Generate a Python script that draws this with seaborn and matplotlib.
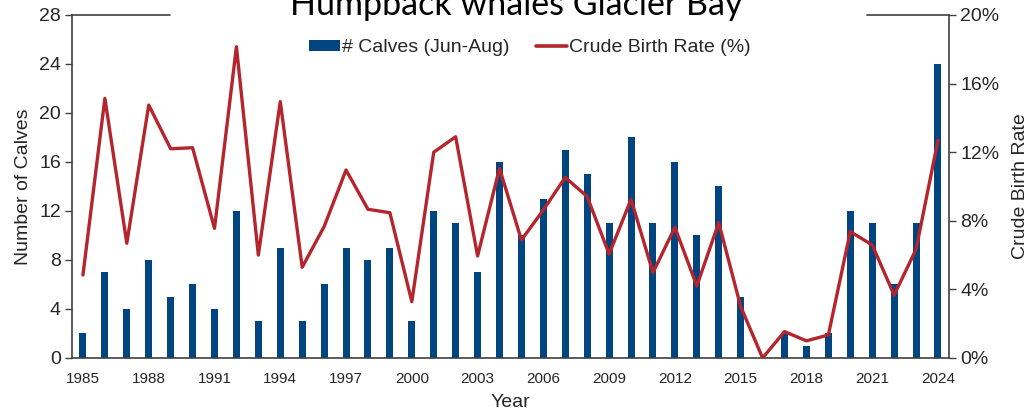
import numpy as np
import pandas as pd
import matplotlib
matplotlib.use("Agg")
import matplotlib.pyplot as plt
import seaborn as sns
from matplotlib.patches import Patch
from matplotlib.lines import Line2D
from matplotlib.ticker import FuncFormatter

years = list(range(1985, 2025))
calves = [2, 7, 4, 8, 5, 6, 4, 12, 3, 9,
          3, 6, 9, 8, 9, 3, 12, 11, 7, 16,
          10, 13, 17, 15, 11, 18, 11, 16, 10, 14,
          5, 0, 2, 1, 2, 12, 11, 6, 11, 24]
birth_rate = [4.84, 15.14, 6.69, 14.75, 12.2, 12.26, 7.56, 18.15, 6.0, 14.95,
              5.29, 7.66, 10.96, 8.67, 8.47, 3.28, 12.0, 12.9, 5.95, 11.06,
              6.88, 8.63, 10.53, 9.41, 6.06, 9.25, 4.98, 7.62, 4.2, 7.89,
              3.0, 0.0, 1.54, 1.0, 1.34, 7.37, 6.59, 3.67, 6.34, 12.7]

title = "Humpback whales Glacier Bay"
bar_label = "# Calves (Jun-Aug)"
line_label = "Crude Birth Rate (%)"

BLUE = "#00457F"
RED = "#B5252D"
AX = "#404040"

sns.set_theme(style="white")
plt.rcParams["font.family"] = ["Liberation Sans", "DejaVu Sans"]

df = pd.DataFrame({"Year": years, "Calves": calves, "Rate": birth_rate,
                   "pos": np.arange(len(years))})

fig = plt.figure(figsize=(10.27, 4.13), dpi=100)
ax = fig.add_axes([0.0701, 0.1332, 0.8539, 0.8305])

sns.barplot(data=df, x="Year", y="Calves", color=BLUE, width=0.32,
            saturation=1, ax=ax, linewidth=0)
ax.set_xlim(-0.5, len(years) - 0.5)
ax.set_ylim(0, 28)
ax.set_yticks(range(0, 29, 4))
ax.set_xticks(range(0, len(years), 3))
ax.set_xticklabels([str(y) for y in years[::3]], fontsize=11)
ax.tick_params(axis="y", labelsize=14, length=5, width=1, color=AX,
               direction="out", left=True, pad=3)
ax.tick_params(axis="x", length=0, pad=10)
ax.set_ylabel("Number of Calves", fontsize=14, labelpad=5)
ax.set_xlabel("Year", fontsize=14, labelpad=6)

ax2 = ax.twinx()
sns.lineplot(data=df, x="pos", y="Rate", color=RED, linewidth=2.4, ax=ax2,
             legend=False)
ax2.set_xlim(-0.5, len(years) - 0.5)
ax2.set_ylim(0, 20)
ax2.set_yticks(range(0, 21, 4))
ax2.yaxis.set_major_formatter(FuncFormatter(lambda v, p: f"{int(v)}%"))
ax2.tick_params(axis="y", labelsize=14, length=5, width=1, color=AX,
                direction="out", right=True, pad=3)
ax2.set_ylabel("Crude Birth Rate", fontsize=14, labelpad=9)
ax2.set_xlabel("")

for a in (ax, ax2):
    a.spines["top"].set_visible(False)
    for s in ("left", "right", "bottom"):
        a.spines[s].set_color(AX)
        a.spines[s].set_linewidth(1.2)
ax.spines["right"].set_visible(False)
ax2.spines["left"].set_visible(False)
ax2.spines["bottom"].set_visible(False)

# partial top border (interrupted by title)
ax.plot([0, 0.112], [1, 1], transform=ax.transAxes, color=AX, lw=1.2,
        clip_on=False)
ax.plot([0.906, 1], [1, 1], transform=ax.transAxes, color=AX, lw=1.2,
        clip_on=False)

handles = [Patch(facecolor=BLUE, edgecolor="none"),
           Line2D([0], [0], color=RED, lw=2.6)]
ax2.legend(handles, [bar_label, line_label], loc="center",
           bbox_to_anchor=(0.522, 0.905), ncol=2, frameon=False,
           fontsize=14, handlelength=1.6, handletextpad=0.1,
           columnspacing=1.4, handleheight=0.5)

fig.text(0.503, 0.964, title, ha="center", va="baseline", fontsize=24.5,
         family=["Lato", "DejaVu Sans"], color="black")

fig.savefig("out.png", dpi=100)
